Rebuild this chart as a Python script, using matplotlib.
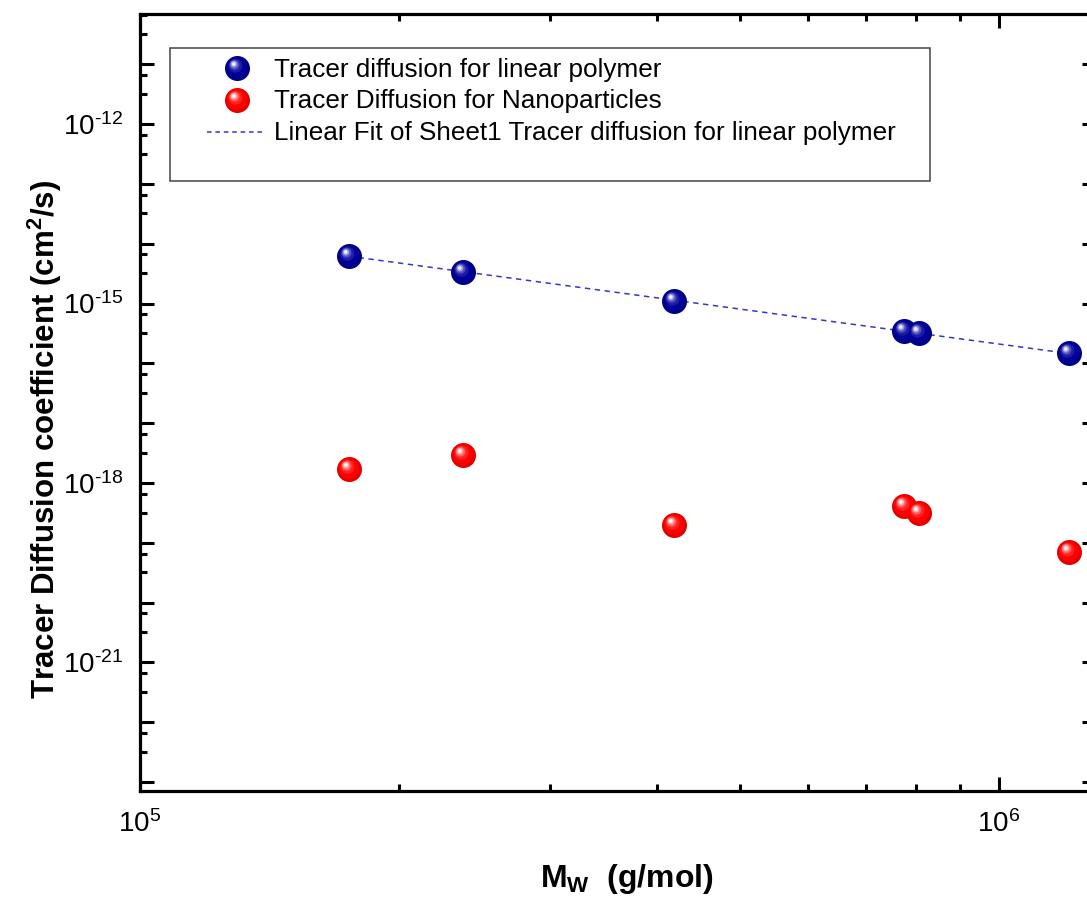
import numpy as np
import matplotlib
matplotlib.use('Agg')
import matplotlib.pyplot as plt
from matplotlib.path import Path
from matplotlib.patches import Rectangle
import matplotlib.ticker as mticker

plt.rcParams['font.family'] = ['Liberation Sans', 'DejaVu Sans']
plt.rcParams['mathtext.fontset'] = 'custom'
plt.rcParams['mathtext.rm'] = 'Liberation Sans'
plt.rcParams['mathtext.bf'] = 'Liberation Sans:bold'

# molecular weight (g/mol) and tracer diffusion coefficients (cm^2/s)
mw = [1.75e5, 2.375e5, 4.18e5, 7.76e5, 8.08e5, 1.205e6]
d_linear = [6.3e-15, 3.4e-15, 1.10e-15, 3.5e-16, 3.17e-16, 1.47e-16]
d_nano = [1.71e-18, 2.93e-18, 1.98e-19, 4.1e-19, 3.18e-19, 7.1e-20]

label_linear = 'Tracer diffusion for linear polymer'
label_nano = 'Tracer Diffusion for Nanoparticles'
label_fit = 'Linear Fit of Sheet1 Tracer diffusion for linear polymer'

W, H = 1087, 907
def fx(px):
    return px / W
def fy(py):
    return 1.0 - py / H

# shaded "sphere" markers: stacked circles, offset towards the upper left
def ball_marker(cx, cy, r):
    circ = Path.circle((cx, cy), r)
    pad = Path([[1.0, 1.0], [-1.0, -1.0]], [Path.MOVETO, Path.MOVETO])
    return Path.make_compound_path(pad, circ)

blue_layers = [(0.0, 0.0, 1.0, '#000085'),
               (-0.06, 0.08, 0.82, '#000098'),
               (-0.16, 0.22, 0.56, '#1c1ca8'),
               (-0.24, 0.30, 0.40, '#5050bc'),
               (-0.28, 0.34, 0.27, '#9a9ad8'),
               (-0.30, 0.36, 0.15, '#eeeefa')]
red_layers = [(0.0, 0.0, 1.0, '#e20000'),
              (-0.06, 0.08, 0.82, '#ff0000'),
              (-0.16, 0.22, 0.56, '#ff2020'),
              (-0.24, 0.30, 0.40, '#ff5c5c'),
              (-0.28, 0.34, 0.27, '#ffa8a8'),
              (-0.30, 0.36, 0.15, '#fff4f4')]

def draw_balls(axis, x, y, layers, ms=18, **kw):
    for cx, cy, r, c in layers:
        axis.plot(x, y, ls='none', marker=ball_marker(cx, cy, r), ms=ms,
                  mfc=c, mec='none', mew=0, **kw)

fig = plt.figure(figsize=(W / 100, H / 100), dpi=100)
ax = fig.add_axes([fx(140), fy(791), (1096 - 140) / W, (791 - 14) / H])

ax.set_xscale('log')
ax.set_yscale('log')
ax.set_xlim(1e5, 10 ** 6.113)
ax.set_ylim(10 ** -23.15, 10 ** -10.16)

# linear fit in log-log space
coef = np.polyfit(np.log10(mw), np.log10(d_linear), 1)
fit_x = np.array([min(mw), max(mw)])
fit_y = 10 ** np.polyval(coef, np.log10(fit_x))
ax.plot(fit_x, fit_y, ls=(0, (3.5, 3.0)), lw=1.1, color='#3636c8', zorder=2)

draw_balls(ax, mw, d_linear, blue_layers, zorder=3)
draw_balls(ax, mw, d_nano, red_layers, zorder=3)

# ticks
def pow_label(e):
    s = '\u2010%d' % -e if e < 0 else '%d' % e
    return r'$\mathrm{10^{%s}}$' % s

ax.xaxis.set_major_locator(mticker.FixedLocator([1e5, 1e6]))
ax.xaxis.set_minor_locator(mticker.LogLocator(base=10, subs=np.arange(2, 10), numticks=20))
ax.xaxis.set_major_formatter(mticker.FuncFormatter(
    lambda v, p: pow_label(int(round(np.log10(v))))))
ax.xaxis.set_minor_formatter(mticker.NullFormatter())

ax.yaxis.set_major_locator(mticker.FixedLocator(10.0 ** np.arange(-23, -10)))
ax.yaxis.set_minor_locator(mticker.LogLocator(base=10, subs=(3.2, 6.6), numticks=30))
def yfmt(v, p):
    e = int(round(np.log10(v)))
    return pow_label(e) if e in (-12, -15, -18, -21) else ''
ax.yaxis.set_major_formatter(mticker.FuncFormatter(yfmt))
ax.yaxis.set_minor_formatter(mticker.NullFormatter())

ax.tick_params(which='both', direction='in', top=True, right=True, width=2.2,
               labelsize=20, color='black')
ax.tick_params(which='major', length=10)
ax.tick_params(which='minor', length=5)
ax.tick_params(axis='y', which='major', pad=12)
ax.tick_params(axis='x', which='major', pad=14)
for s in ax.spines.values():
    s.set_linewidth(2.3)

fig.text(fx(45), fy(439), r'Tracer Diffusion coefficient (cm$^{\mathbf{2}}$/s)',
         rotation=90, ha='center', va='center', fontsize=22.5, fontweight='bold')
fig.text(fx(627), fy(887), r'$\mathbf{M_{W}}$  (g/mol)', ha='center', va='baseline',
         fontsize=23, fontweight='bold')

# legend box
fig.patches.append(Rectangle((fx(170), fy(181)), (930 - 170) / W, (181 - 48) / H,
                             transform=fig.transFigure, fill=False, ec='#444444', lw=1.1))
draw_balls(ax, [fx(237)], [fy(68)], blue_layers, transform=fig.transFigure,
           clip_on=False, zorder=5)
draw_balls(ax, [fx(237)], [fy(100)], red_layers, transform=fig.transFigure,
           clip_on=False, zorder=5)
ax.plot([fx(207), fx(265)], [fy(132), fy(132)], transform=fig.transFigure, clip_on=False,
        ls=(0, (3.0, 2.5)), lw=1.1, color='#3636c8')
for py, txt in zip([77, 108, 140], [label_linear, label_nano, label_fit]):
    fig.text(fx(274), fy(py), txt, ha='left', va='baseline', fontsize=18.8)

fig.savefig('out.png', dpi=100)
